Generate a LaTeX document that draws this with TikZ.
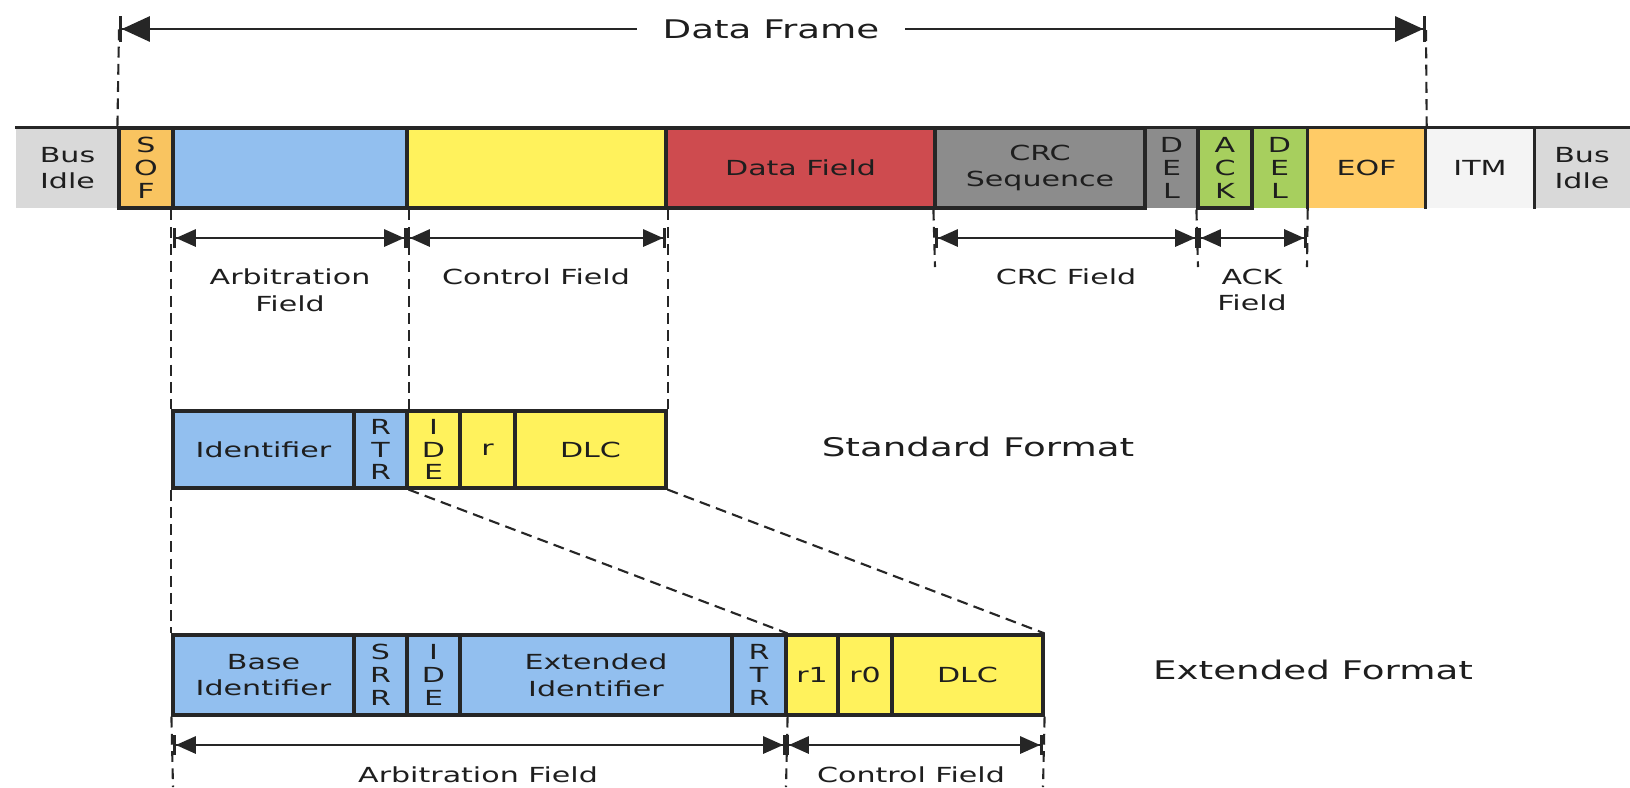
\documentclass[tikz,border=0pt]{standalone}
\usepackage{fontspec}
\newfontfamily\canfont[FakeStretch=1.45]{DejaVu Sans}
\usetikzlibrary{arrows.meta}

\definecolor{idlegray}{HTML}{D9D9D9}
\definecolor{sofor}{HTML}{F9C460}
\definecolor{arbblue}{HTML}{92BFEF}
\definecolor{ctrlyel}{HTML}{FFF25C}
\definecolor{datared}{HTML}{CE4B4F}
\definecolor{crcgray}{HTML}{8C8C8C}
\definecolor{ackgreen}{HTML}{A7CF5E}
\definecolor{eofor}{HTML}{FFCB66}
\definecolor{itmwhite}{HTML}{F4F4F4}
\definecolor{barline}{HTML}{262626}
\definecolor{textink}{HTML}{1E1E1E}

% one field of a frame: style, name, x from, x to, y from, y to, text
\newcommand{\canfield}[7]{%
  \node[#1, minimum width={(#4-#3)*0.01cm}, minimum height={(#6-#5)*0.01cm}]
    (#2) at ({(#3+#4)/2},{(#5+#6)/2}) {#7};}

\tikzset{
  field/.style={inner sep=0pt, align=center, text=textink, font=\canfont\fontsize{5.9}{7.6}\selectfont},
  bit/.style={field, draw=barline, line width=0.9pt},
  stack/.style={font=\canfont\fontsize{5.9}{6.5}\selectfont},
  note/.style={text=textink, align=center, inner sep=0pt, font=\canfont\fontsize{5.9}{7.6}\selectfont},
  caption/.style={text=textink, font=\canfont\fontsize{7.3}{8}\selectfont},
  rim/.style={draw=barline, line width=0.9pt},
  guide/.style={draw=barline, line width=0.6pt, dash pattern=on 3.1pt off 1.8pt},
  dim/.style={draw=barline, line width=0.8pt,
    {Bar[width=2mm]Triangle[length=2mm,width=1.7mm]}-{Triangle[length=2mm,width=1.7mm]Bar[width=2mm]}}
}

\begin{document}
\begin{tikzpicture}[x=0.01cm,y=-0.01cm]
  \useasboundingbox (0,0) rectangle (1630,787);

  % frame fields
  \canfield{field, fill=idlegray}{idleA}{16}{119}{128}{208}{Bus\\Idle}
  \canfield{bit, stack, fill=sofor}{sof}{119}{173}{128}{208}{S\\O\\F}
  \canfield{bit, fill=arbblue}{arb}{173}{407}{128}{208}{}
  \canfield{bit, fill=ctrlyel}{ctrl}{407}{666}{128}{208}{}
  \canfield{bit, fill=datared}{data}{666}{935}{128}{208}{Data Field}
  \canfield{field, stack, fill=crcgray}{crcdel}{1145}{1198}{128}{208}{D\\E\\L}
  \canfield{bit, fill=crcgray}{crcseq}{935}{1145}{128}{208}{CRC\\Sequence}
  \canfield{field, stack, fill=ackgreen}{ackdel}{1252}{1307}{128}{208}{D\\E\\L}
  \canfield{bit, stack, fill=ackgreen}{ack}{1198}{1252}{128}{208}{A\\C\\K}
  \canfield{field, fill=eofor}{eof}{1307}{1426}{128}{208}{EOF}
  \canfield{field, fill=itmwhite}{itm}{1426}{1534}{128}{208}{ITM}
  \canfield{field, fill=idlegray}{idleB}{1534}{1630}{128}{208}{Bus\\Idle}
  \draw[rim] (idleA.north west) -- (idleB.north east);
  \draw[rim] (ackdel.north east) -- (ackdel.south east);
  \draw[rim] (itm.north west) -- (itm.south west);
  \draw[rim] (itm.north east) -- (itm.south east);

  % Data Frame
  \coordinate (dfL) at (119,29);
  \coordinate (dfR) at (1426,29);
  \node[caption, inner xsep=0.25cm, inner ysep=1pt] (dftxt) at (771,29) {Data Frame};
  \draw[guide] (sof.north west) -- (dfL);
  \draw[guide] (eof.north east) -- (dfR);
  \draw[draw=barline, line width=0.8pt, {Bar[width=2.6mm]Triangle[length=2.8mm,width=2.5mm]}-] (dfL) -- (dftxt);
  \draw[draw=barline, line width=0.8pt, -{Triangle[length=2.8mm,width=2.5mm]Bar[width=2.6mm]}] (dftxt) -- (dfR);

  % standard format
  \canfield{bit, fill=arbblue}{ident}{173}{354}{411}{488}{Identifier}
  \canfield{bit, stack, fill=arbblue}{rtr}{354}{407}{411}{488}{R\\T\\R}
  \canfield{bit, stack, fill=ctrlyel}{ide}{407}{460}{411}{488}{I\\D\\E}
  \canfield{bit, fill=ctrlyel}{res}{460}{515}{411}{488}{r}
  \canfield{bit, fill=ctrlyel}{dlc}{515}{666}{411}{488}{DLC}
  \node[caption] (stdtxt) at (978,447) {Standard Format};

  % extended format
  \canfield{bit, fill=arbblue}{baseid}{173}{354}{635}{715}{Base\\Identifier}
  \canfield{bit, stack, fill=arbblue}{srr}{354}{407}{635}{715}{S\\R\\R}
  \canfield{bit, stack, fill=arbblue}{idex}{407}{460}{635}{715}{I\\D\\E}
  \canfield{bit, fill=arbblue}{extid}{460}{732}{635}{715}{Extended\\Identifier}
  \canfield{bit, stack, fill=arbblue}{rtrx}{732}{786}{635}{715}{R\\T\\R}
  \canfield{bit, fill=ctrlyel}{rone}{786}{838}{635}{715}{r1}
  \canfield{bit, fill=ctrlyel}{rzero}{838}{892}{635}{715}{r0}
  \canfield{bit, fill=ctrlyel}{dlcx}{892}{1043}{635}{715}{DLC}
  \node[caption] (exttxt) at (1313,670) {Extended Format};

  % guides
  \coordinate (g0) at (935,267);
  \coordinate (g1) at (1198,267);
  \coordinate (g2) at (1307,267);
  \coordinate (e0) at (173,787);
  \coordinate (e1) at (786,787);
  \coordinate (e2) at (1043,787);
  \draw[guide] (arb.south west) -- (ident.north west);
  \draw[guide] (ident.south west) -- (baseid.north west);
  \draw[guide] (baseid.south west) -- (e0);
  \draw[guide] (arb.south east) -- (rtr.north east);
  \draw[guide] (ctrl.south east) -- (dlc.north east);
  \draw[guide] (crcseq.south west) -- (g0);
  \draw[guide] (ack.south west) -- (g1);
  \draw[guide] (ackdel.south east) -- (g2);
  \draw[guide] (rtr.south east) -- (rtrx.north east);
  \draw[guide] (dlc.south east) -- (dlcx.north east);
  \draw[guide] (rtrx.south east) -- (e1);
  \draw[guide] (dlcx.south east) -- (e2);

  % field spans
  \coordinate (a0) at (173,238);
  \coordinate (a1) at (407,238);
  \coordinate (a2) at (666,238);
  \coordinate (c0) at (935,238);
  \coordinate (c1) at (1198,238);
  \coordinate (c2) at (1307,238);
  \coordinate (b0) at (173,745);
  \coordinate (b1) at (786,745);
  \coordinate (b2) at (1043,745);
  \draw[dim] (a0) -- (a1);
  \draw[dim] (a1) -- (a2);
  \draw[dim] (c0) -- (c1);
  \draw[dim] (c1) -- (c2);
  \draw[dim] (b0) -- (b1);
  \draw[dim] (b1) -- (b2);

  \node[note] (arbtxt) at (290,290) {Arbitration\\Field};
  \node[note] (ctrltxt) at (536,277) {Control Field};
  \node[note] (crctxt) at (1066,277) {CRC Field};
  \node[note] (acktxt) at (1252,290) {ACK\\Field};
  \node[note] (arbxtxt) at (478,775) {Arbitration Field};
  \node[note] (ctrlxtxt) at (911,775) {Control Field};
\end{tikzpicture}
\end{document}
